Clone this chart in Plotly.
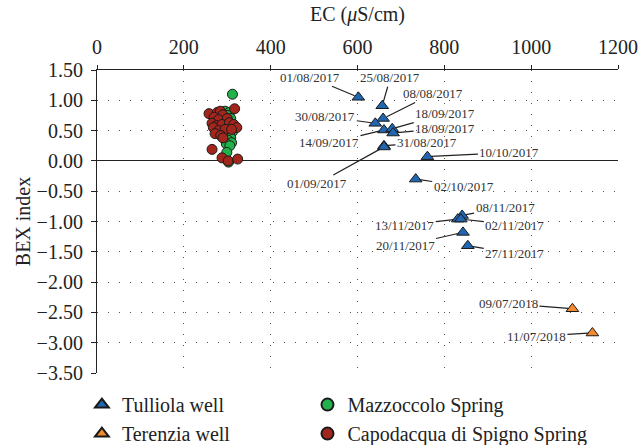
import plotly.graph_objects as go

# Tulliola well (EC, BEX, date label)
tul_ec = [602, 657, 659, 641, 661, 680, 682, 661, 661, 761, 734, 841, 831, 838, 843, 854]
tul_bex = [1.05, 0.91, 0.70, 0.62, 0.51, 0.53, 0.46, 0.25, 0.23, 0.07, -0.30, -0.90, -0.96, -0.96, -1.18, -1.40]
tul_dates = ["01/08/2017", "25/08/2017", "08/08/2017", "30/08/2017", "14/09/2017", "18/09/2017",
             "18/09/2017", "31/08/2017", "01/09/2017", "10/10/2017", "02/10/2017", "08/11/2017",
             "13/11/2017", "02/11/2017", "20/11/2017", "27/11/2017"]
tul_ax = [-48, 8, 50, -50, -55, 53, 52, 43, -67, 82, 48, 43, -53, 54, -58, 47]
tul_ay = [-20, -28, -25, -7, 13, -15, -5, -3, 37, -4, 7, -8, 6, 6, 13, 8]

# Terenzia well
ter_ec = [1095, 1141]
ter_bex = [-2.44, -2.84]
ter_dates = ["09/07/2018", "11/07/2018"]
ter_ax = [-64, -56]
ter_ay = [-5, 3]

# Mazzoccolo Spring
maz_ec = [312, 295, 305, 300, 308, 298, 310, 303, 296, 312, 305, 300, 308, 302, 310, 298, 306, 299, 303, 315]
maz_bex = [1.10, 0.82, 0.80, 0.75, 0.70, 0.65, 0.60, 0.55, 0.50, 0.48, 0.45, 0.40, 0.38, 0.34, 0.30, 0.28, 0.25, 0.14, -0.02, 0.55]

# Capodacqua di Spigno Spring
cap_ec = [317, 258, 277, 284, 290, 270, 280, 300, 265, 275, 288, 305, 315, 322, 268, 280, 295, 310, 272, 285, 290, 265, 288, 302, 324]
cap_bex = [0.86, 0.78, 0.80, 0.82, 0.76, 0.72, 0.68, 0.70, 0.62, 0.58, 0.60, 0.63, 0.60, 0.55, 0.55, 0.50, 0.52, 0.52, 0.45, 0.42, 0.38, 0.19, 0.05, 0.00, 0.03]

FONT = "Liberation Serif"
BLUE = "#2166b0"
ORANGE = "#f28a30"
GREEN = "#22b24c"
RED = "#a3261c"
EDGE = "#1a1a1a"

fig = go.Figure()
fig.add_trace(go.Scatter(x=tul_ec, y=tul_bex, mode="markers", name="Tulliola well", legend="legend",
                         marker=dict(symbol="triangle-up", size=11, color=BLUE, line=dict(color=EDGE, width=1))))
fig.add_trace(go.Scatter(x=ter_ec, y=ter_bex, mode="markers", name="Terenzia well", legend="legend",
                         marker=dict(symbol="triangle-up", size=11, color=ORANGE, line=dict(color=EDGE, width=1))))
fig.add_trace(go.Scatter(x=maz_ec, y=maz_bex, mode="markers", name="Mazzoccolo Spring", legend="legend2",
                         marker=dict(symbol="circle", size=10, color=GREEN, line=dict(color=EDGE, width=1))))
fig.add_trace(go.Scatter(x=cap_ec, y=cap_bex, mode="markers", name="Capodacqua di Spigno Spring", legend="legend2",
                         marker=dict(symbol="circle", size=10, color=RED, line=dict(color=EDGE, width=1))))

annos = []
for xs, ys, ds, axs, ays in [(tul_ec, tul_bex, tul_dates, tul_ax, tul_ay),
                             (ter_ec, ter_bex, ter_dates, ter_ax, ter_ay)]:
    for x, y, d, ax, ay in zip(xs, ys, ds, axs, ays):
        annos.append(dict(x=x, y=y, xref="x", yref="y", text=d, showarrow=True, arrowhead=0,
                          arrowwidth=1.2, arrowcolor="#222", ax=ax, ay=ay, standoff=4,
                          font=dict(family=FONT, size=13, color="#333")))

leg_common = dict(orientation="v", xanchor="left", yanchor="top", y=-0.04,
                  font=dict(family=FONT, size=20, color="#222"),
                  tracegroupgap=0, itemsizing="constant", bgcolor="rgba(0,0,0,0)")

grid_dash = "1px,10px"
fig.update_layout(
    width=640, height=445,
    margin=dict(l=97, r=22, t=70, b=72, autoexpand=False),
    paper_bgcolor="white", plot_bgcolor="white",
    font=dict(family=FONT, size=20, color="#222"),
    showlegend=True,
    legend=dict(x=-0.029, **leg_common),
    legend2=dict(x=0.404, **leg_common),
    annotations=annos,
)
fig.update_xaxes(side="top", range=[0, 1200], tickvals=[0, 200, 400, 600, 800, 1000, 1200],
                 title=dict(text="EC (<i>μ</i>S/cm)", standoff=8, font=dict(size=20)),
                 showline=True, linecolor="#222", linewidth=1.2, ticks="outside", ticklen=4, tickcolor="#222",
                 showgrid=True, gridcolor="#555", gridwidth=1, griddash=grid_dash, zeroline=False,
                 tickfont=dict(size=20), ticklabeloverflow="allow", ticklabelstandoff=3)
fig.update_yaxes(range=[-3.5, 1.5], tickvals=[1.5, 1.0, 0.5, 0.0, -0.5, -1.0, -1.5, -2.0, -2.5, -3.0, -3.5],
                 tickformat=".2f", title=dict(text="BEX index", standoff=0, font=dict(size=20)),
                 showline=True, linecolor="#222", linewidth=1.2, ticks="outside", ticklen=5, tickcolor="#222",
                 showgrid=True, gridcolor="#555", gridwidth=1, griddash=grid_dash,
                 zeroline=True, zerolinecolor="#222", zerolinewidth=1.2, tickfont=dict(size=20),
                 ticklabelstandoff=4)

fig.write_html("out.html")
